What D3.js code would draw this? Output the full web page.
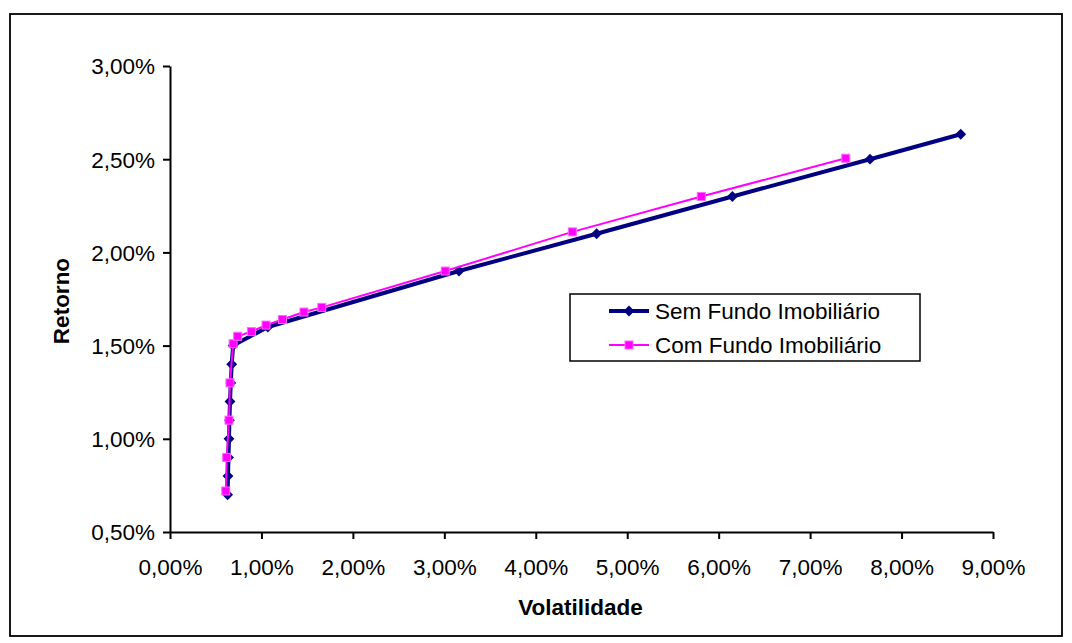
<!DOCTYPE html>
<html>
<head>
<meta charset="utf-8">
<script src="https://cdn.jsdelivr.net/npm/d3@7"></script>
<style>
  body { margin: 0; background: #fff; }
  svg { display: block; font-family: "Liberation Sans", Arial, sans-serif; }
</style>
</head>
<body>
<svg id="chart" width="1072" height="643"></svg>
<script>
// ---- Data (percent values) ----
const xTicks = [0, 1, 2, 3, 4, 5, 6, 7, 8, 9];
const yTicks = [0.5, 1.0, 1.5, 2.0, 2.5, 3.0];

const semVol = [0.63, 0.634, 0.64, 0.645, 0.65, 0.656, 0.665, 0.675, 0.69, 1.07, 3.16, 4.665, 6.15, 7.655, 8.647];
const semRet = [0.70, 0.80, 0.90, 1.00, 1.10, 1.20, 1.30, 1.40, 1.50, 1.60, 1.90, 2.10, 2.30, 2.50, 2.634];

const comVol = [0.61, 0.62, 0.645, 0.656, 0.69, 0.74, 0.89, 1.05, 1.23, 1.465, 1.66, 3.01, 4.40, 5.81, 7.39];
const comRet = [0.72, 0.90, 1.10, 1.30, 1.51, 1.55, 1.575, 1.61, 1.64, 1.68, 1.705, 1.90, 2.11, 2.30, 2.505];

const seriesNames = ["Sem Fundo Imobiliário", "Com Fundo Imobiliário"];
const xTitle = "Volatilidade";
const yTitle = "Retorno";

// ---- Layout ----
const svg = d3.select("#chart");
const plot = { left: 170, right: 993, top: 66, bottom: 532 };
const fmt = v => v.toFixed(2).replace(".", ",") + "%";
const FS = "22.5px";

const x = d3.scaleLinear().domain([0, 9]).range([plot.left, plot.right]);
const y = d3.scaleLinear().domain([0.5, 3.0]).range([plot.bottom, plot.top]);

// outer border
svg.append("rect").attr("x", 10).attr("y", 14).attr("width", 1052).attr("height", 622)
  .attr("fill", "#fff").attr("stroke", "#000").attr("stroke-width", 1.8);

// axes
const xAxis = d3.axisBottom(x).tickValues(xTicks).tickFormat(fmt).tickSize(7).tickSizeOuter(0);
const yAxis = d3.axisLeft(y).tickValues(yTicks).tickFormat(fmt).tickSize(7).tickSizeOuter(0);

const gx = svg.append("g").attr("transform", `translate(0,${plot.bottom})`).call(xAxis);
const gy = svg.append("g").attr("transform", `translate(${plot.left},0)`).call(yAxis);
[gx, gy].forEach(g => {
  g.select(".domain").attr("stroke", "#000").attr("stroke-width", 2);
  g.selectAll(".tick line").attr("stroke", "#000").attr("stroke-width", 2);
  g.selectAll(".tick text").attr("fill", "#000").style("font-size", FS)
    .style("font-family", "'Liberation Sans', Arial, sans-serif");
});
gx.selectAll(".tick text").attr("dy", null).attr("y", 0).attr("transform", "translate(0,43)");
gy.selectAll(".tick text").attr("x", -15).attr("dy", "0.35em");

// axis titles
svg.append("text").attr("x", (plot.left + plot.right) / 2 - 1).attr("y", 615)
  .attr("text-anchor", "middle").style("font-size", FS).style("font-weight", "bold").text(xTitle);
svg.append("text").attr("transform", "translate(69,301) rotate(-90)")
  .attr("text-anchor", "middle").style("font-size", FS).style("font-weight", "bold").text(yTitle);

// series
const semData = semVol.map((v, i) => [v, semRet[i]]);
const comData = comVol.map((v, i) => [v, comRet[i]]);
const line = d3.line().x(d => x(d[0])).y(d => y(d[1]));

svg.append("path").datum(semData).attr("d", line)
  .attr("fill", "none").attr("stroke", "#000080").attr("stroke-width", 4).attr("stroke-linejoin", "round");
svg.selectAll(".semPt").data(semData).enter().append("path")
  .attr("transform", d => `translate(${x(d[0])},${y(d[1])})`)
  .attr("d", d3.symbol(d3.symbolDiamond2, 75)).attr("fill", "#000080");

svg.append("path").datum(comData).attr("d", line)
  .attr("fill", "none").attr("stroke", "#FF00FF").attr("stroke-width", 2).attr("stroke-linejoin", "round");
svg.selectAll(".comPt").data(comData).enter().append("rect")
  .attr("x", d => x(d[0]) - 4).attr("y", d => y(d[1]) - 4)
  .attr("width", 8).attr("height", 8).attr("fill", "#FF00FF")
  .attr("stroke", "#FF66FF").attr("stroke-width", 1);

// legend
const lg = svg.append("g");
lg.append("rect").attr("x", 570).attr("y", 294).attr("width", 350).attr("height", 67)
  .attr("fill", "#fff").attr("stroke", "#000").attr("stroke-width", 1.5);
const legendRows = [
  { name: seriesNames[0], color: "#000080", w: 4, sym: "diamond", yy: 311 },
  { name: seriesNames[1], color: "#FF00FF", w: 2, sym: "square", yy: 345 }
];
legendRows.forEach(r => {
  lg.append("line").attr("x1", 609).attr("x2", 649).attr("y1", r.yy).attr("y2", r.yy)
    .attr("stroke", r.color).attr("stroke-width", r.w);
  if (r.sym === "diamond") {
    lg.append("path").attr("transform", `translate(629,${r.yy})`)
      .attr("d", d3.symbol(d3.symbolDiamond2, 75)).attr("fill", r.color);
  } else {
    lg.append("rect").attr("x", 625).attr("y", r.yy - 4).attr("width", 8).attr("height", 8)
      .attr("fill", r.color).attr("stroke", "#FF66FF");
  }
  lg.append("text").attr("x", 655).attr("y", r.yy).attr("dy", "0.35em")
    .style("font-size", FS).text(r.name);
});
</script>
</body>
</html>
